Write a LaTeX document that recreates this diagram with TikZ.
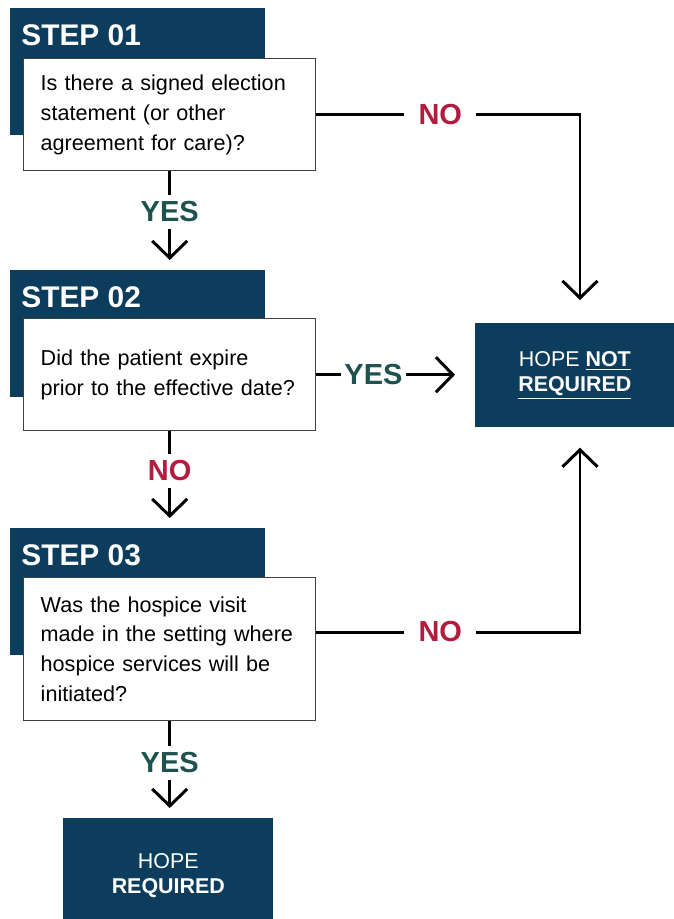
\documentclass[tikz,border=0pt]{standalone}
\usepackage{fontspec}
\setmainfont{Liberation Sans}
\usetikzlibrary{arrows.meta,positioning}
\definecolor{hopenavy}{RGB}{13,61,92}
\definecolor{yesgreen}{RGB}{29,82,78}
\definecolor{nored}{RGB}{178,28,62}
\tikzset{
    step head/.style = {
        fill = hopenavy,
        minimum width = 5.1cm,
        minimum height = 2.54cm,
        anchor = north west,
        inner sep = 0pt,
        },
    step title/.style = {
        text = white,
        font = \fontsize{17}{20}\selectfont\bfseries,
        anchor = base west,
        inner sep = 0pt,
        },
    question/.style = {
        draw = black!75,
        line width = 0.8pt,
        fill = white,
        anchor = north west,
        text width = 5.16cm,
        inner xsep = 0.34cm,
        align = left,
        font = \fontsize{12.3}{17}\selectfont,
        },
    outcome/.style = {
        fill = hopenavy,
        text = white,
        align = center,
        anchor = north west,
        inner sep = 0pt,
        font = \fontsize{12.2}{14.2}\selectfont,
        },
    flow/.style = {
        draw = black,
        line width = 1.7pt,
        -{Straight Barb[length=3.4mm, width=7mm]},
        },
    yes label/.style = {
        text = yesgreen,
        fill = white,
        inner xsep = 8pt,
        inner ysep = 4pt,
        font = \fontsize{16.5}{18}\selectfont\bfseries,
        },
    no label/.style = {
        yes label,
        text = nored,
        },
}
\begin{document}
\begin{tikzpicture}
    \useasboundingbox[fill=white] (0,0) rectangle (13.48,-18.38);

    % step boxes
    \node[step head] (s1) at (0.2,-0.16) {};
    \node[step title] (t1) at ([xshift=0.22cm,yshift=-0.74cm]s1.north west) {STEP 01};
    \node[question, minimum height=2.24cm] (q1) at (0.46,-1.16)
        {Is there a signed election\\statement (or other\\agreement for care)?};

    \node[step head] (s2) at (0.2,-5.4) {};
    \node[step title] (t2) at ([xshift=0.22cm,yshift=-0.74cm]s2.north west) {STEP 02};
    \node[question, minimum height=2.24cm] (q2) at (0.46,-6.36)
        {Did the patient expire\\prior to the effective date?};

    \node[step head] (s3) at (0.2,-10.56) {};
    \node[step title] (t3) at ([xshift=0.22cm,yshift=-0.74cm]s3.north west) {STEP 03};
    \node[question, minimum height=2.86cm] (q3) at (0.46,-11.54)
        {Was the hospice visit\\made in the setting where\\hospice services will be\\initiated?};

    % outcomes
    \node[outcome, minimum width=3.98cm, minimum height=2.08cm] (nr) at (9.5,-6.46)
        {HOPE \textbf{\underline{NOT}}\\\textbf{\underline{REQUIRED}}};
    \node[outcome, minimum width=4.2cm, minimum height=2.3cm] (rq) at (1.26,-16.36)
        {HOPE\\\textbf{REQUIRED}};

    \coordinate (c1) at (q1.east -| 11.6,0);
    \coordinate (c3) at (11.6,-12.64);

    % connectors
    \draw[flow, shorten >=0.2cm] (q1.south) -- node[yes label, pos=0.41] {YES} (q1.south |- s2.north);
    \draw[flow, shorten >=0.46cm] (q1.east) -- node[no label, pos=0.47] {NO} (c1) -- (c1 |- nr.north);
    \draw[flow, shorten >=0.4cm] (q2.east) -- node[yes label, pos=0.36, inner xsep=2pt] {YES} (q2.east -| nr.west);
    \draw[flow, shorten >=0.2cm] (q2.south) -- node[no label, pos=0.41] {NO} (q2.south |- s3.north);
    \draw[flow, shorten >=0.4cm] (q3.east |- c3) -- node[no label, pos=0.47] {NO} (c3) -- (c3 |- nr.south);
    \draw[flow, shorten >=0.2cm] (q3.south) -- node[yes label, pos=0.43] {YES} (q3.south |- rq.north);
\end{tikzpicture}
\end{document}
